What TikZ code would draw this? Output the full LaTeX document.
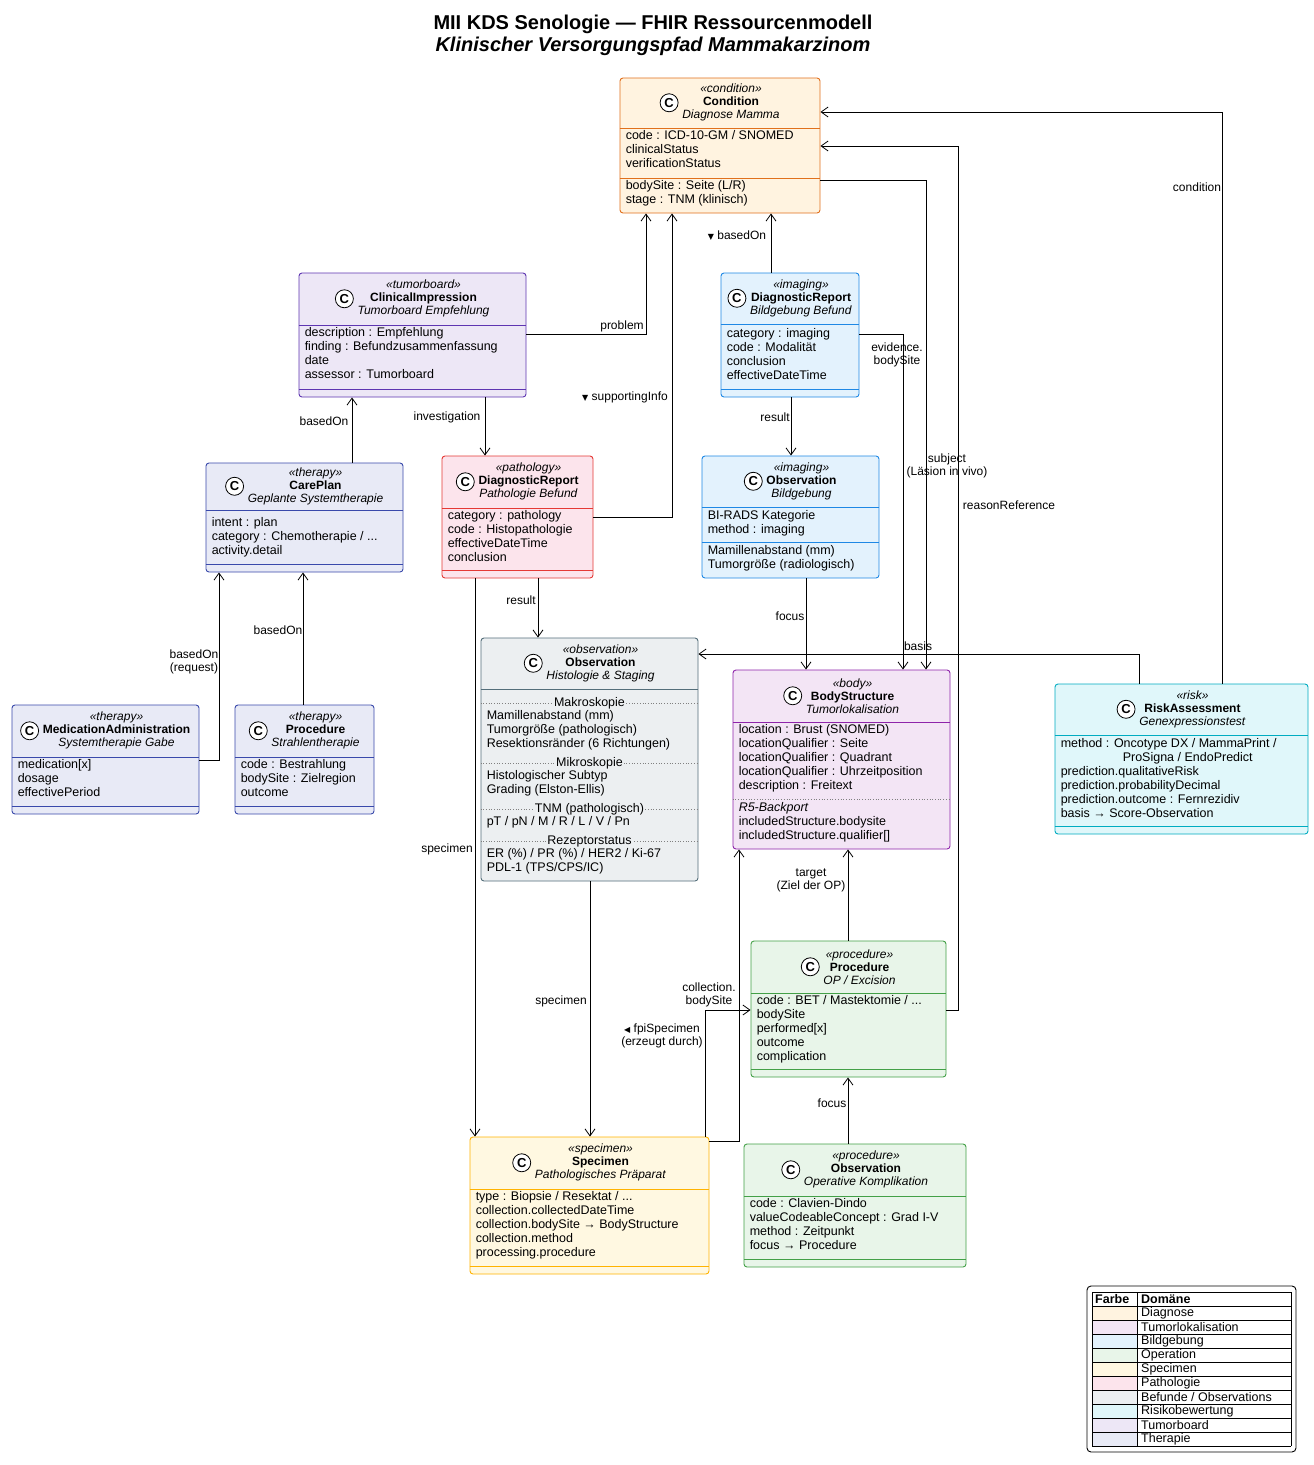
\documentclass[tikz,border=0pt]{standalone}
\usepackage{fontspec}
\setmainfont{Liberation Sans}
\newfontfamily\symfont{DejaVu Sans}
\usetikzlibrary{calc,arrows.meta}

\definecolor{condfill}{HTML}{FFF3E0}\definecolor{conddraw}{HTML}{E0701C}
\definecolor{cifill}{HTML}{EDE7F6}\definecolor{cidraw}{HTML}{5E35B1}
\definecolor{imgfill}{HTML}{E3F2FD}\definecolor{imgdraw}{HTML}{1E88E5}
\definecolor{therfill}{HTML}{E8EAF6}\definecolor{therdraw}{HTML}{3949AB}
\definecolor{pathfill}{HTML}{FCE4EC}\definecolor{pathdraw}{HTML}{E53935}
\definecolor{obsfill}{HTML}{ECEFF1}\definecolor{obsdraw}{HTML}{546E7A}
\definecolor{bodyfill}{HTML}{F3E5F5}\definecolor{bodydraw}{HTML}{8E24AA}
\definecolor{riskfill}{HTML}{E0F7FA}\definecolor{riskdraw}{HTML}{00ACC1}
\definecolor{opfill}{HTML}{E8F5E9}\definecolor{opdraw}{HTML}{43A047}
\definecolor{specfill}{HTML}{FFF8E1}\definecolor{specdraw}{HTML}{FFB300}

\tikzset{
  clsbox/.style={rectangle, rounded corners=3pt, inner sep=0pt, line width=0.9pt},
  clshead/.style={align=center, inner sep=0pt, font=\fontsize{12}{13}\selectfont},
  clsbody/.style={align=left, anchor=north west, inner sep=0pt, font=\fontsize{12.5}{14}\selectfont},
  conn/.style={draw, line width=0.8pt, -{Straight Barb[length=7pt,width=10pt]}},
  lbl/.style={align=center, inner sep=1pt, font=\fontsize{12}{13}\selectfont},
}

% box, header, compartments
\newcommand\umlclass[6]{%
  \node[clsbox, fill=#6fill, draw=#6draw, minimum width={(#4-#2)*1pt}, minimum height={(#5-#3)*1pt}]
    (#1) at ({(#2+#4)/2},{(#3+#5)/2}) {};}
\newcommand\umlhead[6]{%
  \node[clshead] (#1-h) at ([xshift=11pt]$(#1.north)!0.5!(#1.north |- 0,#2)$)
    {\textit{«#3»}\\\textbf{#4}\\\textit{#5}};
  \draw[fill=white, line width=0.8pt] ([xshift=-13pt]#1-h.west) circle (9pt)
    node[font=\fontsize{13}{13}\selectfont\bfseries] {C};
  \draw[#6draw, line width=0.9pt] (#1.west |- 0,#2) -- (#1.east |- 0,#2);}
\newcommand\umlsep[3]{\draw[#3draw, line width=0.9pt] (#1.west |- 0,#2) -- (#1.east |- 0,#2);}
\newcommand\umlbody[3]{\node[clsbody] at ([xshift=6pt]#1.west |- 0,#2) {#3};}
\newcommand\umldots[3]{%
  \draw[gray, dotted, line width=0.7pt] (#1.west |- 0,#2) -- (#1.east |- 0,#2);
  \node[fill=obsfill, inner sep=1pt, font=\fontsize{12.5}{14}\selectfont] at (#1.north |- 0,#2) {#3};}

\begin{document}
\begin{tikzpicture}[x=1pt, y=-1pt]
  \useasboundingbox[fill=white] (0,0) rectangle (1314,1465);

  % title
  \node[font=\fontsize{20}{22}\selectfont\bfseries] (title1) at (653,24) {MII KDS Senologie — FHIR Ressourcenmodell};
  \node[font=\fontsize{20}{22}\selectfont\bfseries\itshape] (title2) at (653,46) {Klinischer Versorgungspfad Mammakarzinom};

  % Condition
  \umlclass{cond}{620}{78}{820}{213}{cond}
  \umlhead{cond}{128}{condition}{Condition}{Diagnose Mamma}{cond}
  \umlsep{cond}{178}{cond}
  \umlbody{cond}{130}{code : ICD-10-GM / SNOMED\\clinicalStatus\\verificationStatus}
  \umlbody{cond}{180}{bodySite : Seite (L/R)\\stage : TNM (klinisch)}

  % ClinicalImpression
  \umlclass{ci}{299}{273}{526}{397}{ci}
  \umlhead{ci}{325}{tumorboard}{ClinicalImpression}{Tumorboard Empfehlung}{ci}
  \umlsep{ci}{389}{ci}
  \umlbody{ci}{327}{description : Empfehlung\\finding : Befundzusammenfassung\\date\\assessor : Tumorboard}

  % DiagnosticReport imaging
  \umlclass{dri}{721}{273}{859}{397}{img}
  \umlhead{dri}{324}{imaging}{DiagnosticReport}{Bildgebung Befund}{img}
  \umlsep{dri}{389}{img}
  \umlbody{dri}{328}{category : imaging\\code : Modalität\\conclusion\\effectiveDateTime}

  % CarePlan
  \umlclass{cp}{206}{463}{403}{572}{ther}
  \umlhead{cp}{510}{therapy}{CarePlan}{Geplante Systemtherapie}{ther}
  \umlsep{cp}{564}{ther}
  \umlbody{cp}{517}{intent : plan\\category : Chemotherapie / ...\\activity.detail}

  % DiagnosticReport pathology
  \umlclass{drp}{442}{456}{593}{578}{path}
  \umlhead{drp}{508}{pathology}{DiagnosticReport}{Pathologie Befund}{path}
  \umlsep{drp}{570}{path}
  \umlbody{drp}{510}{category : pathology\\code : Histopathologie\\effectiveDateTime\\conclusion}

  % Observation imaging
  \umlclass{obi}{702}{456}{879}{578}{img}
  \umlhead{obi}{507}{imaging}{Observation}{Bildgebung}{img}
  \umlsep{obi}{542}{img}
  \umlbody{obi}{510}{BI-RADS Kategorie\\method : imaging}
  \umlbody{obi}{545}{Mamillenabstand (mm)\\Tumorgröße (radiologisch)}

  % Observation histology
  \umlclass{obh}{481}{638}{698}{881}{obs}
  \umlhead{obh}{689}{observation}{Observation}{Histologie \& Staging}{obs}
  \umldots{obh}{703}{Makroskopie}
  \umlbody{obh}{710}{Mamillenabstand (mm)\\Tumorgröße (pathologisch)\\Resektionsränder (6 Richtungen)}
  \umldots{obh}{763}{Mikroskopie}
  \umlbody{obh}{770}{Histologischer Subtyp\\Grading (Elston-Ellis)}
  \umldots{obh}{809}{TNM (pathologisch)}
  \umlbody{obh}{816}{pT / pN / M / R / L / V / Pn}
  \umldots{obh}{841}{Rezeptorstatus}
  \umlbody{obh}{848}{ER (\%) / PR (\%) / HER2 / Ki-67\\PDL-1 (TPS/CPS/IC)}

  % BodyStructure
  \umlclass{bs}{733}{670}{950}{849}{body}
  \umlhead{bs}{722}{body}{BodyStructure}{Tumorlokalisation}{body}
  \draw[gray, dotted, line width=0.7pt] (bs.west |- 0,799) -- (bs.east |- 0,799);
  \umlbody{bs}{724}{location : Brust (SNOMED)\\locationQualifier : Seite\\locationQualifier : Quadrant\\locationQualifier : Uhrzeitposition\\description : Freitext}
  \umlbody{bs}{802}{\textit{R5-Backport}\\includedStructure.bodysite\\includedStructure.qualifier[]}

  % RiskAssessment
  \umlclass{ra}{1055}{684}{1308}{834}{risk}
  \umlhead{ra}{735}{risk}{RiskAssessment}{Genexpressionstest}{risk}
  \umlsep{ra}{826}{risk}
  \umlbody{ra}{738}{method : Oncotype DX / MammaPrint /\\\hspace*{62pt}ProSigna / EndoPredict\\prediction.qualitativeRisk\\prediction.probabilityDecimal\\prediction.outcome : Fernrezidiv\\basis → Score-Observation}

  % MedicationAdministration
  \umlclass{ma}{12}{705}{199}{814}{ther}
  \umlhead{ma}{757}{therapy}{MedicationAdministration}{Systemtherapie Gabe}{ther}
  \umlsep{ma}{806}{ther}
  \umlbody{ma}{759}{medication[x]\\dosage\\effectivePeriod}

  % Procedure radiotherapy
  \umlclass{prr}{235}{705}{374}{814}{ther}
  \umlhead{prr}{757}{therapy}{Procedure}{Strahlentherapie}{ther}
  \umlsep{prr}{806}{ther}
  \umlbody{prr}{759}{code : Bestrahlung\\bodySite : Zielregion\\outcome}

  % Procedure OP
  \umlclass{op}{751}{941}{946}{1077}{op}
  \umlhead{op}{993}{procedure}{Procedure}{OP / Excision}{op}
  \umlsep{op}{1069}{op}
  \umlbody{op}{995}{code : BET / Mastektomie / ...\\bodySite\\performed[x]\\outcome\\complication}

  % Specimen
  \umlclass{sp}{470}{1137}{709}{1274}{spec}
  \umlhead{sp}{1189}{specimen}{Specimen}{Pathologisches Präparat}{spec}
  \umlsep{sp}{1266}{spec}
  \umlbody{sp}{1191}{type : Biopsie / Resektat / ...\\collection.collectedDateTime\\collection.bodySite → BodyStructure\\collection.method\\processing.procedure}

  % Observation complication
  \umlclass{obk}{744}{1144}{966}{1267}{op}
  \umlhead{obk}{1196}{procedure}{Observation}{Operative Komplikation}{op}
  \umlsep{obk}{1259}{op}
  \umlbody{obk}{1198}{code : Clavien-Dindo\\valueCodeableConcept : Grad I-V\\method : Zeitpunkt\\focus → Procedure}

  % connectors
  \draw[conn] (ci.east |- 0,334) -| (cond.south -| 646,0);
  \draw[conn] (drp.east |- 0,517) -| (cond.south -| 672,0);
  \draw[conn] (dri.north -| 771,0) -- (cond.south -| 771,0);
  \draw[conn] (ra.north -| 1222,0) |- (cond.east |- 0,112);
  \draw[conn] (op.east |- 0,1010) -- (958,1010) |- (cond.east |- 0,146);
  \draw[conn] (cond.east |- 0,180) -| (bs.north -| 926,0);
  \draw[conn] (dri.east |- 0,334) -| (bs.north -| 903,0);
  \draw[conn] (dri.south -| 791,0) -- (obi.north -| 791,0);
  \draw[conn] (obi.south -| 806,0) -- (bs.north -| 806,0);
  \draw[conn] (ci.south -| 485,0) -- (drp.north -| 485,0);
  \draw[conn] (cp.north -| 352,0) -- (ci.south -| 352,0);
  \draw[conn] (drp.south -| 538,0) -- (obh.north -| 538,0);
  \draw[conn] (ra.north -| 1139,0) |- (obh.east |- 0,654);
  \draw[conn] (ma.east |- 0,760) -| (cp.south -| 219,0);
  \draw[conn] (prr.north -| 303,0) -- (cp.south -| 303,0);
  \draw[conn] (drp.south -| 475,0) -- (sp.north -| 475,0);
  \draw[conn] (obh.south -| 590,0) -- (sp.north -| 590,0);
  \draw[conn] (op.north -| 848,0) -- (bs.south -| 848,0);
  \draw[conn] (sp.east |- 0,1141) -- (739,1141) -- (bs.south -| 739,0);
  \draw[conn] (sp.north -| 705,0) |- (op.west |- 0,1010);
  \draw[conn] (obk.north -| 848,0) -- (op.south -| 848,0);

  % connector labels
  \node[lbl] at (622,326) {problem};
  \node[lbl] at (625,397) {{\symfont\fontsize{8}{8}\selectfont ▼} supportingInfo};
  \node[lbl] at (737,236) {{\symfont\fontsize{8}{8}\selectfont ▼} basedOn};
  \node[lbl] at (1197,187) {condition};
  \node[lbl] at (1009,505) {reasonReference};
  \node[lbl] at (947,466) {subject\\(Läsion in vivo)};
  \node[lbl] at (897,355) {evidence.\\bodySite};
  \node[lbl] at (775,417) {result};
  \node[lbl] at (790,616) {focus};
  \node[lbl] at (447,417) {investigation};
  \node[lbl] at (324,421) {basedOn};
  \node[lbl] at (521,600) {result};
  \node[lbl] at (918,646) {basis};
  \node[lbl] at (194,662) {basedOn\\(request)};
  \node[lbl] at (278,630) {basedOn};
  \node[lbl] at (447,849) {specimen};
  \node[lbl] at (561,1001) {specimen};
  \node[lbl] at (811,880) {target\\(Ziel der OP)};
  \node[lbl] at (709,995) {collection.\\bodySite};
  \node[lbl] at (662,1036) {{\symfont\fontsize{8}{8}\selectfont ◀} fpiSpecimen\\(erzeugt durch)};
  \node[lbl] at (832,1103) {focus};

  % legend
  \draw[rounded corners=4pt, line width=0.9pt] (1087,1286) rectangle (1296,1452);
  \foreach \c [count=\i] in {condfill,bodyfill,imgfill,opfill,specfill,pathfill,obsfill,riskfill,cifill,therfill}
    \fill[\c] (1092,{1292+14*\i}) rectangle (1137,{1306+14*\i});
  \foreach \t [count=\i] in {Diagnose,Tumorlokalisation,Bildgebung,Operation,Specimen,Pathologie,Befunde / Observations,Risikobewertung,Tumorboard,Therapie}
    \node[anchor=west, inner sep=0pt, font=\fontsize{12.5}{13}\selectfont] at (1141,{1299+14*\i}) {\t};
  \node[anchor=west, inner sep=0pt, font=\fontsize{12.5}{13}\selectfont\bfseries] at (1095,1299) {Farbe};
  \node[anchor=west, inner sep=0pt, font=\fontsize{12.5}{13}\selectfont\bfseries] at (1141,1299) {Domäne};
  \foreach \i in {0,...,11}
    \draw[line width=0.8pt] (1092,{1292+14*\i}) -- (1291,{1292+14*\i});
  \draw[line width=0.8pt] (1092,1292) -- (1092,1446) (1137,1292) -- (1137,1446) (1291,1292) -- (1291,1446);
\end{tikzpicture}
\end{document}
